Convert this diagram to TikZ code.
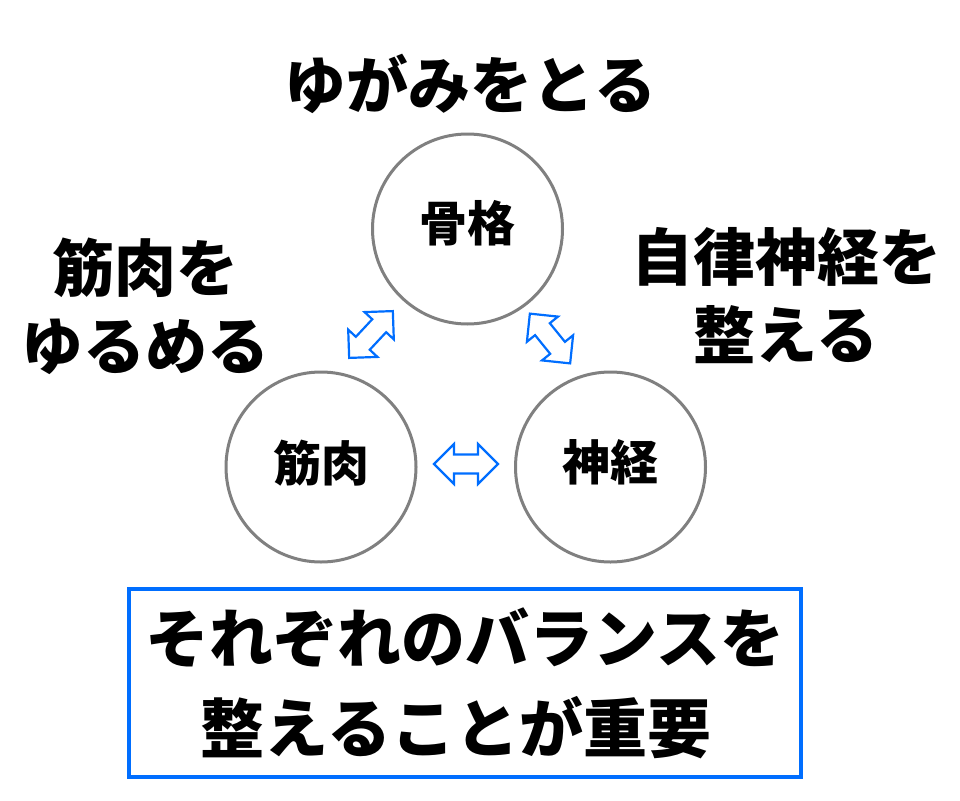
\documentclass[tikz,border=0pt]{standalone}
\usepackage{fontspec}
\setmainfont{Noto Sans CJK JP}
\definecolor{cblue}{RGB}{0,110,255}
\definecolor{cgray}{RGB}{128,128,128}
\tikzset{
  circ/.style={circle, draw=cgray, line width=3pt, minimum size=190pt, inner sep=0pt},
  circlbl/.style={inner sep=0pt, font=\bfseries\fontsize{48}{50}\selectfont},
  bigtxt/.style={align=center, inner sep=0pt, font=\bfseries\fontsize{62}{78}\selectfont},
  dblarrow/.style={draw=cblue, line width=2.2pt, fill=white, line join=miter},
  bluebox/.style={draw=cblue, line width=4pt, minimum width=672pt, minimum height=188pt, align=center, inner sep=0pt, font=\bfseries\fontsize{64}{90}\selectfont}
}
\newcommand{\twoarrow}[3]{%
  \draw[dblarrow, shift={(#1,#2)}, rotate=#3]
    (-32,0) -- (-12,20) -- (-12,9.5) -- (12,9.5) -- (12,20) -- (32,0)
    -- (12,-20) -- (12,-9.5) -- (-12,-9.5) -- (-12,-20) -- cycle;}
\begin{document}
\begin{tikzpicture}[x=1pt,y=-1pt]
\useasboundingbox (0,0) rectangle (960,800);
\fill[white] (0,0) rectangle (960,800);
% circles
\node[circ] (bone) at (467.5,229) {};
\node[circ] (muscle) at (321,467) {};
\node[circ] (nerve) at (610.5,467) {};
\node[circlbl] (bonel) at ([yshift=6pt]bone.center) {骨格};
\node[circlbl] (musclel) at ([yshift=4pt]muscle.center) {筋肉};
\node[circlbl] (nervel) at ([yshift=5pt]nerve.center) {神経};
% arrows
\twoarrow{371}{334.5}{47}
\twoarrow{550}{338.5}{-51}
\twoarrow{466}{464}{0}
% labels
\node[bigtxt] (t1) at (470,84) {ゆがみをとる};
\node[bigtxt] (t2) at (145,306) {筋肉を\\ゆるめる};
\node[bigtxt] (t3) at (786,296) {自律神経を\\整える};
% box
\node[bluebox] (box) at (465,683) {それぞれのバランスを\\整えることが重要\hspace*{18pt}};
\end{tikzpicture}
\end{document}
